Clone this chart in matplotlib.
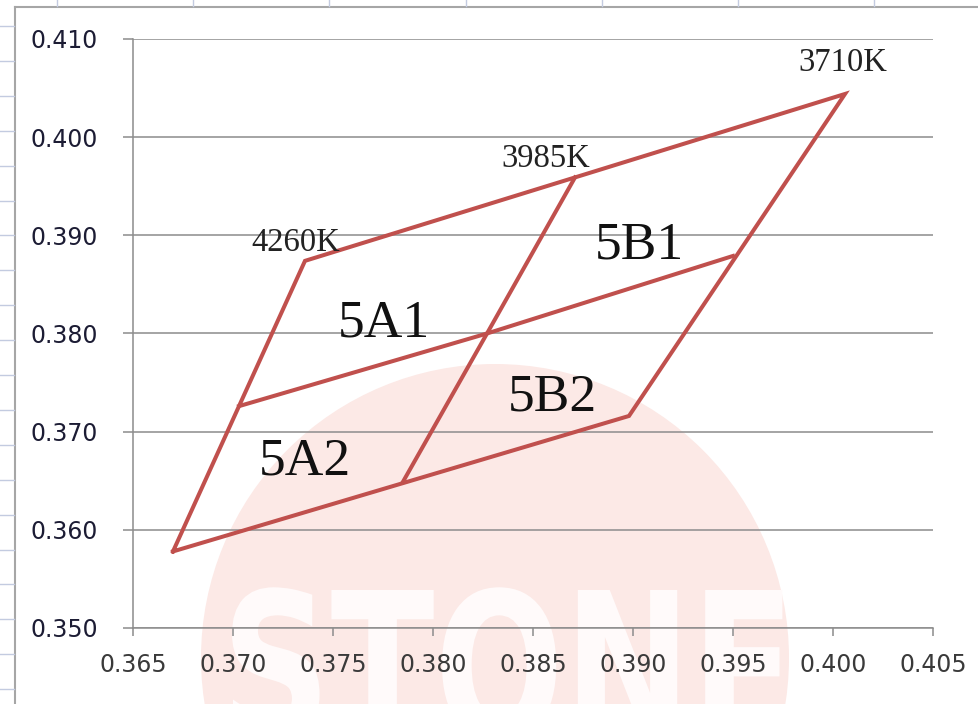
import matplotlib
matplotlib.use("Agg")
import matplotlib.pyplot as plt
from matplotlib.patches import Circle, PathPatch
from matplotlib.textpath import TextPath
from matplotlib.font_manager import FontProperties
from matplotlib.transforms import Affine2D

# --- data (CIE x, y) ---
outline_x = [0.3670, 0.3736, 0.4006, 0.3898, 0.3670]
outline_y = [0.3578, 0.3874, 0.4044, 0.3716, 0.3578]
split_cct_x = [0.3785, 0.3827, 0.3871]     # bottom-mid -> centre -> 3985K
split_cct_y = [0.3649, 0.3800, 0.3959]
split_duv_x = [0.3703, 0.3827, 0.3950]     # left-mid -> centre -> right-mid
split_duv_y = [0.3726, 0.3800, 0.3879]

cct_labels = ["4260K", "3985K", "3710K"]
cct_x = [0.37315, 0.38565, 0.40048]
cct_y = [0.38841, 0.39700, 0.40677]

bin_labels = ["5A1", "5B1", "5A2", "5B2"]
bin_x = [0.37755, 0.39030, 0.37358, 0.38595]
bin_y = [0.37965, 0.38767, 0.36560, 0.37215]

xticks = [0.365, 0.370, 0.375, 0.380, 0.385, 0.390, 0.395, 0.400, 0.405]
yticks = [0.350, 0.360, 0.370, 0.380, 0.390, 0.400, 0.410]

W, H = 979, 704
fig = plt.figure(figsize=(W / 100, H / 100), dpi=100)

# background layer in pixel coords: sheet border, row/col marks, watermark
bg = fig.add_axes([0, 0, 1, 1], zorder=0)
bg.set_xlim(0, W); bg.set_ylim(H, 0); bg.axis("off")
bg.add_patch(Circle((495, 658), 294, color="#fce9e6", lw=0))
tp = TextPath((0, 0), "STONE", size=100, prop=FontProperties(family="DejaVu Sans", weight="bold"))
ext = tp.get_extents()
sx = 552 / ext.width; sy = 150 / 72.9
tr = Affine2D().translate(-ext.x0, 0).scale(sx, -sy).translate(232, 740) + bg.transData
bg.add_patch(PathPatch(tp, transform=tr, color="#fffafa", lw=0))
bg.plot([15, W], [7, 7], color="#a6a6a6", lw=1.5)
bg.plot([15, 15], [7, H], color="#a6a6a6", lw=1.5)
for k in range(7):
    bg.plot([57 + 136.2 * k] * 2, [0, 6], color="#c3cbe0", lw=1)
for k in range(20):
    yy = 26 + 34.9 * k
    if yy < H:
        bg.plot([0, 14], [yy, yy], color="#c3cbe0", lw=1)

ax = fig.add_axes([133 / W, 1 - 628 / H, 800 / W, 589 / H], zorder=1)
ax.set_facecolor("none")
ax.set_xlim(0.365, 0.405); ax.set_ylim(0.350, 0.410)
ax.set_xticks(xticks); ax.set_yticks(yticks)
ax.set_xticklabels([f"{v:.3f}" for v in xticks])
ax.set_yticklabels([f"{v:.3f}" for v in yticks])
ax.grid(axis="y", color="#8c8c8c", lw=1.1)
ax.set_axisbelow(True)
for s in ["top", "right"]:
    ax.spines[s].set_visible(False)
for s in ["left", "bottom"]:
    ax.spines[s].set_color("#8c8c8c"); ax.spines[s].set_linewidth(1.1)
ax.tick_params(axis="y", direction="out", length=7.2, width=1.1, color="#8c8c8c",
               pad=18, labelsize=17, labelcolor="#1c1c34")
ax.tick_params(axis="x", direction="out", length=5.8, width=1.1, color="#8c8c8c",
               pad=12, labelsize=17, labelcolor="#3a3a3a")

red = "#c0504d"
ax.plot(outline_x, outline_y, color=red, lw=2.9, solid_joinstyle="miter")
ax.plot(split_cct_x, split_cct_y, color=red, lw=2.9)
ax.plot(split_duv_x, split_duv_y, color=red, lw=2.9)

for t, x, y in zip(cct_labels, cct_x, cct_y):
    ax.text(x, y, t, family="Liberation Serif", fontsize=23.5, color="#222",
            ha="center", va="baseline", clip_on=False)
for t, x, y in zip(bin_labels, bin_x, bin_y):
    ax.text(x, y, t, family="Liberation Serif", fontsize=38.5, color="#111",
            ha="center", va="baseline")

fig.savefig("out.png", dpi=100)
